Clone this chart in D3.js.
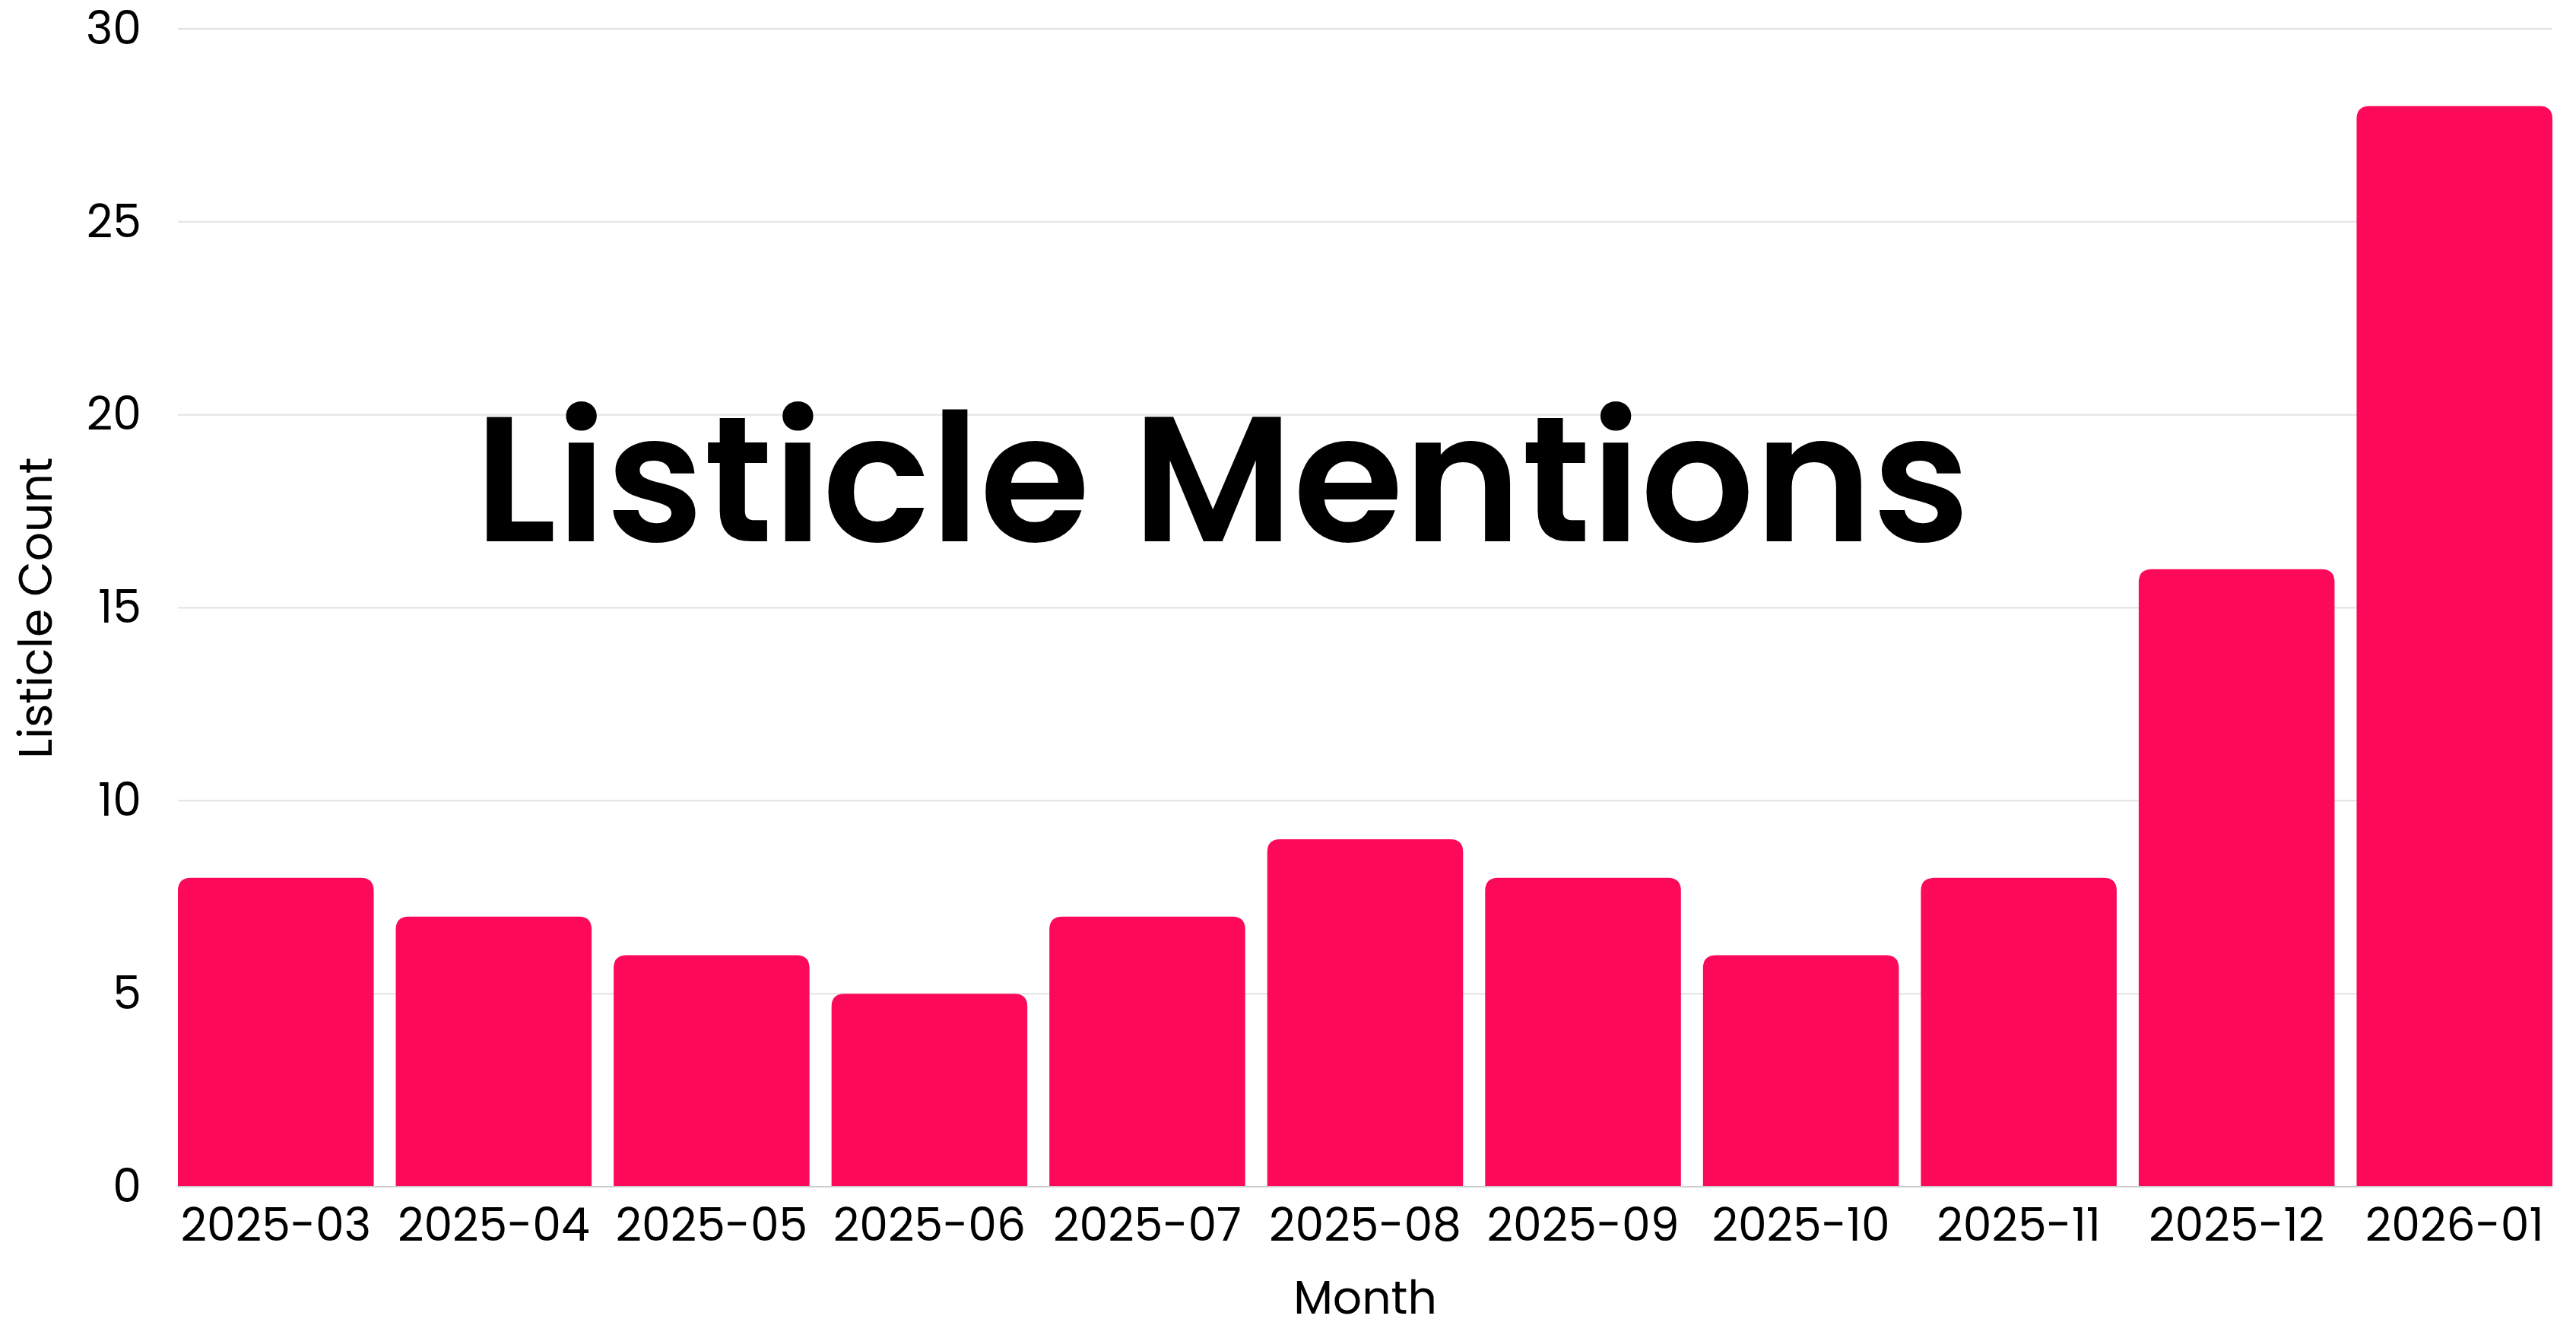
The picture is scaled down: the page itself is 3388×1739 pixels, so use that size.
<!DOCTYPE html>
<html>
<head>
<meta charset="utf-8">
<script src="https://cdn.jsdelivr.net/npm/d3@7"></script>
<style>
  html, body { margin: 0; padding: 0; background: #ffffff; }
  svg { display: block; }
  text { font-family: Poppins, Inter, "Noto Sans", sans-serif; fill: #000; }
</style>
</head>
<body>
<svg id="chart" width="3388" height="1739"></svg>
<script>
const months = ["2025-03","2025-04","2025-05","2025-06","2025-07","2025-08","2025-09","2025-10","2025-11","2025-12","2026-01"];
const counts = [8, 7, 6, 5, 7, 9, 8, 6, 8, 16, 28];
const yTicks = [0, 5, 10, 15, 20, 25, 30];
const titleText = "Listicle Mentions";
const xLabel = "Month";
const yLabel = "Listicle Count";

const W = 3388, H = 1739;
const margin = { left: 234, right: 31, top: 38, bottom: 178 };
const plotRight = W - margin.right;
const svg = d3.select("#chart");

const x = d3.scaleBand()
  .domain(months)
  .range([margin.left, plotRight])
  .paddingInner(0.1012)
  .paddingOuter(0)
  .align(0);

const y = d3.scaleLinear()
  .domain([0, 30])
  .range([H - margin.bottom, margin.top]);

// gridlines
svg.append("g")
  .selectAll("line")
  .data(yTicks.filter(d => d > 0))
  .join("line")
  .attr("x1", margin.left)
  .attr("x2", plotRight)
  .attr("y1", d => y(d))
  .attr("y2", d => y(d))
  .attr("stroke", "#e3e3e3")
  .attr("stroke-width", 2);

// y axis labels
const yAxis = d3.axisLeft(y).tickValues(yTicks).tickSize(0).tickPadding(48);
const gy = svg.append("g").attr("transform", `translate(${margin.left},0)`).call(yAxis);
gy.select(".domain").remove();
gy.selectAll("text").attr("font-size", 60).attr("font-family", "Poppins, Inter, 'Noto Sans', sans-serif").attr("fill", "#000");

// bars with rounded top corners
const r = 17;
function barPath(x0, w, yTop, yBase) {
  const rr = Math.min(r, w / 2, (yBase - yTop));
  return `M${x0},${yBase}V${yTop + rr}Q${x0},${yTop} ${x0 + rr},${yTop}H${x0 + w - rr}Q${x0 + w},${yTop} ${x0 + w},${yTop + rr}V${yBase}Z`;
}
svg.append("g")
  .selectAll("path")
  .data(months.map((m, i) => ({ m, v: counts[i] })))
  .join("path")
  .attr("d", d => barPath(x(d.m), x.bandwidth(), y(d.v), y(0)))
  .attr("fill", "#fd0959");

// x axis
const xAxis = d3.axisBottom(x).tickSize(0).tickPadding(28);
const gx = svg.append("g").attr("transform", `translate(0,${y(0)})`).call(xAxis);
gx.select(".domain").attr("d", `M${margin.left},0H${plotRight}`).attr("stroke", "#cccccc").attr("stroke-width", 2);
gx.selectAll("text").attr("font-size", 60).attr("font-family", "Poppins, Inter, 'Noto Sans', sans-serif").attr("fill", "#000");

// axis titles
svg.append("text")
  .attr("x", (margin.left + plotRight) / 2)
  .attr("y", 1728)
  .attr("text-anchor", "middle")
  .attr("font-size", 60)
  .text(xLabel);

svg.append("text")
  .attr("transform", `translate(68,${(y(0) + y(30)) / 2}) rotate(-90)`)
  .attr("text-anchor", "middle")
  .attr("font-size", 60)
  .text(yLabel);

// big title
svg.append("text")
  .attr("x", 624)
  .attr("y", 712)
  .attr("font-size", 235)
  .attr("font-weight", 600)
  .text(titleText);
</script>
</body>
</html>
